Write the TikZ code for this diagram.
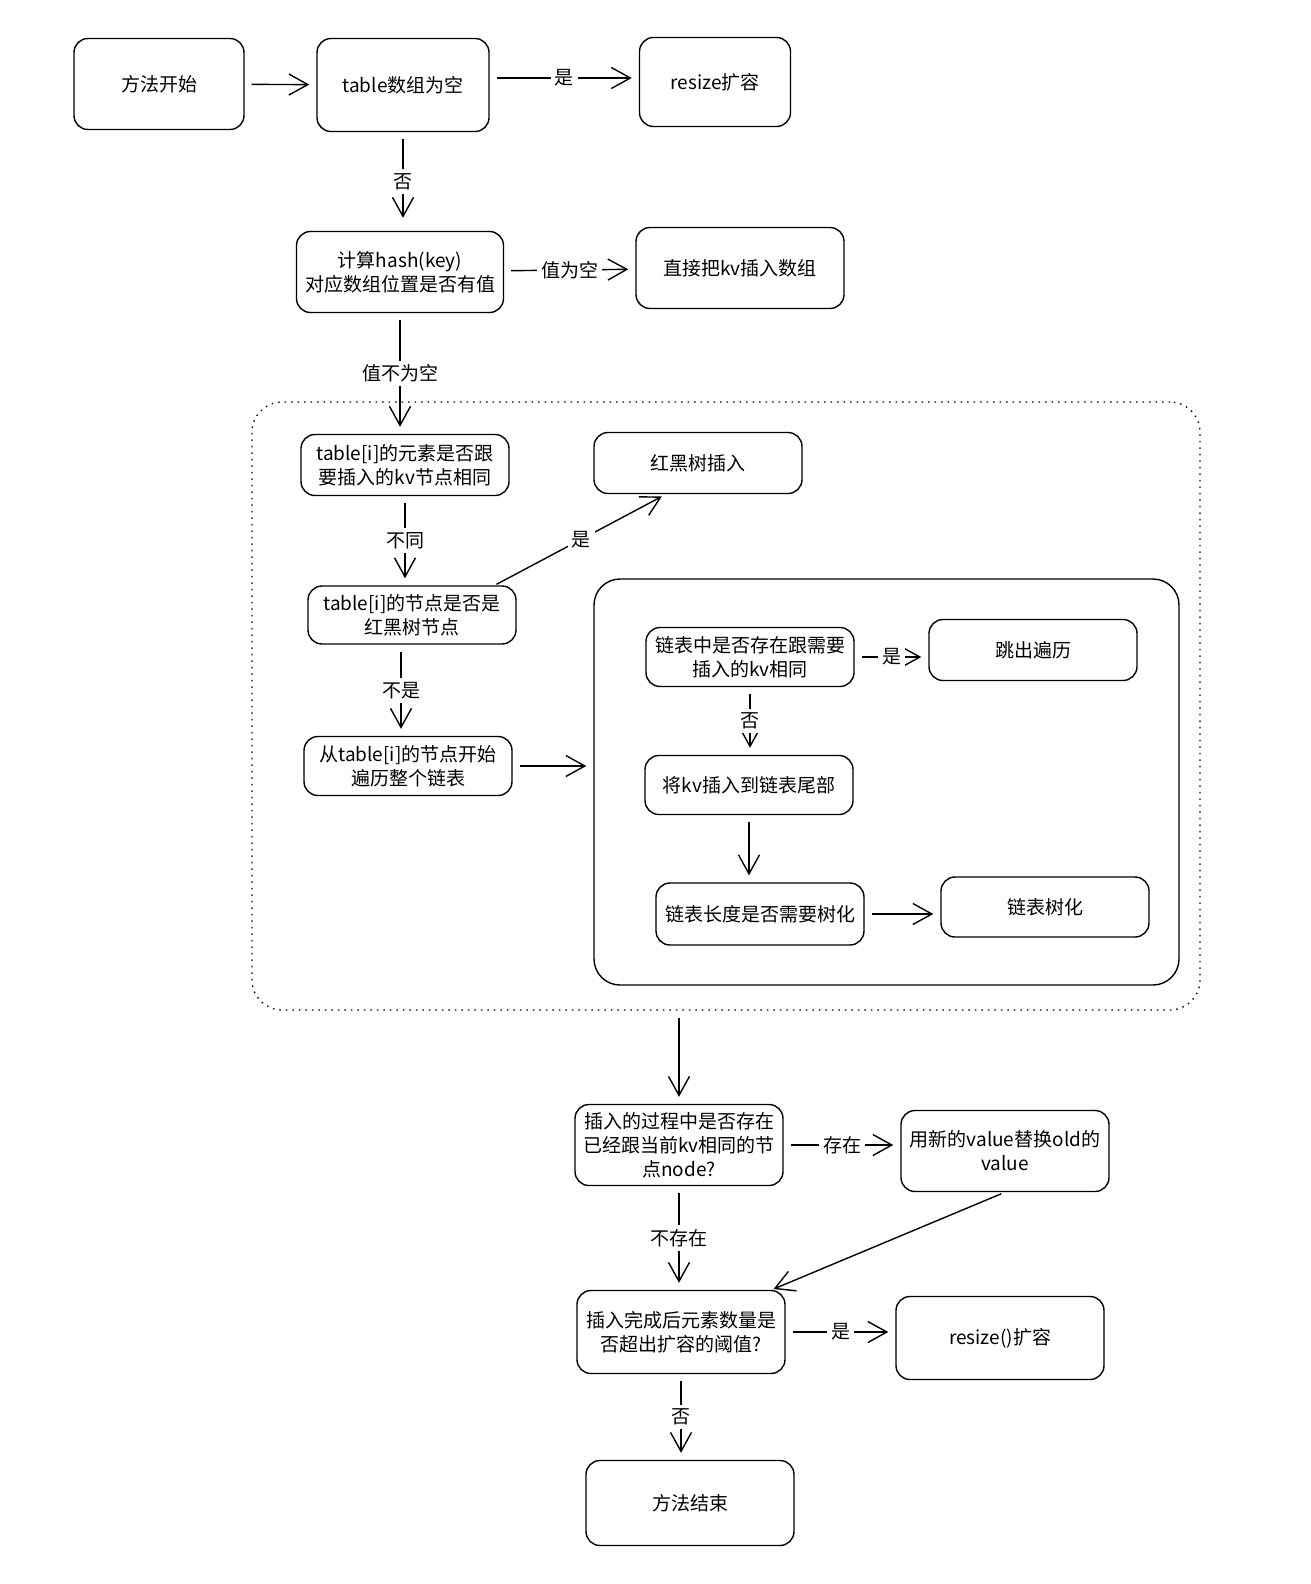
\documentclass[tikz,border=0pt]{standalone}
\usepackage{fontspec}
\setmainfont{Noto Sans CJK SC}
\usetikzlibrary{arrows.meta,positioning,calc}

\begin{document}
\begin{tikzpicture}[x=1pt, y=-1pt,
  box/.style={rectangle, draw, rounded corners=14pt, line width=1.4pt,
              align=center, font=\fontsize{19}{24}\selectfont, inner sep=2pt},
  wide/.style={box, minimum width=208pt, minimum height=81pt},
  flat/.style={box, minimum width=208pt, minimum height=60pt},
  arr/.style={-{Straight Barb[length=19pt,width=21pt]}, line width=1.4pt,
              shorten <=7pt, shorten >=7pt},
  lbl/.style={font=\fontsize{19}{24}\selectfont, fill=white, inner sep=4pt, midway}
]
\useasboundingbox (0,0) rectangle (1310,1584);

% groups
\node[draw, line width=1.3pt, dash pattern=on 1.5pt off 5pt, rounded corners=30pt,
      minimum width=948pt, minimum height=608pt] (outer) at (726,706) {};
\node[draw, line width=1.4pt, rounded corners=26pt,
      minimum width=585pt, minimum height=406pt] (inner) at (886.5,782) {};

% top part
\node[box, minimum width=170pt, minimum height=91pt] (start) at (159,84) {方法开始};
\node[box, minimum width=172pt, minimum height=93pt] (empty) at (403,85) {table数组为空};
\node[box, minimum width=151pt, minimum height=89pt] (resz)  at (715,82) {resize扩容};
\node[wide, minimum width=207pt] (hash)   at (400,272) {计算hash(key)\\对应数组位置是否有值};
\node[wide] (direct) at (740,268) {直接把kv插入数组};

% bucket
\node[flat, minimum height=61pt] (elem)   at (405,465) {table[i]的元素是否跟\\要插入的kv节点相同};
\node[flat, minimum height=61pt] (rbins)  at (698,463) {红黑树插入};
\node[flat, minimum height=58pt] (rbnode) at (412,615) {table[i]的节点是否是\\红黑树节点};
\node[flat, minimum height=59pt] (trav)   at (408,766) {从table[i]的节点开始\\遍历整个链表};

% list walk
\node[flat, minimum height=59pt] (exist)   at (750,657) {链表中是否存在跟需要\\插入的kv相同};
\node[flat, minimum height=61pt] (brk)     at (1033,650) {跳出遍历};
\node[flat, minimum height=59pt] (tail)    at (749,785) {将kv插入到链表尾部};
\node[flat, minimum height=62pt] (len)     at (760,914) {链表长度是否需要树化};
\node[flat] (treeify) at (1045,907) {链表树化};

% bottom part
\node[wide] (dup)    at (679,1145) {插入的过程中是否存在\\已经跟当前kv相同的节\\点node?};
\node[wide] (repl)   at (1005,1151) {用新的value替换old的\\value};
\node[wide, minimum height=83pt] (over)  at (681,1332) {插入完成后元素数量是\\否超出扩容的阈值?};
\node[wide, minimum height=83pt] (resz2) at (1000,1338) {resize()扩容};
\node[wide, minimum height=85pt] (finish) at (690,1503) {方法结束};

\draw[arr] (start) -- (empty);
\draw[arr] ([yshift=7pt]empty.east) -- node[lbl]{是} ([yshift=4pt]resz.west);
\draw[arr, shorten >=13pt] (empty) -- node[lbl]{否} (empty |- hash.north);
\draw[arr] (hash) -- node[lbl]{值为空} (direct);
\draw[arr] (hash) -- node[lbl]{值不为空} (hash |- elem.north);
\draw[arr] (elem) -- node[lbl]{不同} (elem |- rbnode.north);
\draw[arr, shorten <=2pt] ([xshift=-22pt]rbnode.north east) -- node[lbl]{是} ([xshift=-30pt,yshift=1pt]rbins.south);
\draw[arr] ([xshift=-11pt]rbnode.south) -- node[lbl]{不是} ([xshift=-7pt]trav.north);
\draw[arr] (trav) -- (trav -| inner.west);
\draw[arr] (exist) -- node[lbl]{是} (exist -| brk.west);
\draw[arr] (exist) -- node[lbl]{否} (exist |- tail.north);
\draw[arr] (tail) -- (tail |- len.north);
\draw[arr] (len) -- (len -| treeify.west);
\draw[arr] (outer.south -| dup) -- (dup);
\draw[arr] (dup) -- node[lbl]{存在} (dup -| repl.west);
\draw[arr] (dup) -- node[lbl]{不存在} (dup |- over.north);
\draw[arr, shorten <=4pt, shorten >=2pt] (repl.south) -- ([xshift=-14pt]over.north east);
\draw[arr] (over) -- node[lbl]{是} (over -| resz2.west);
\draw[arr] (over) -- node[lbl]{否} (over |- finish.north);
\end{tikzpicture}
\end{document}
